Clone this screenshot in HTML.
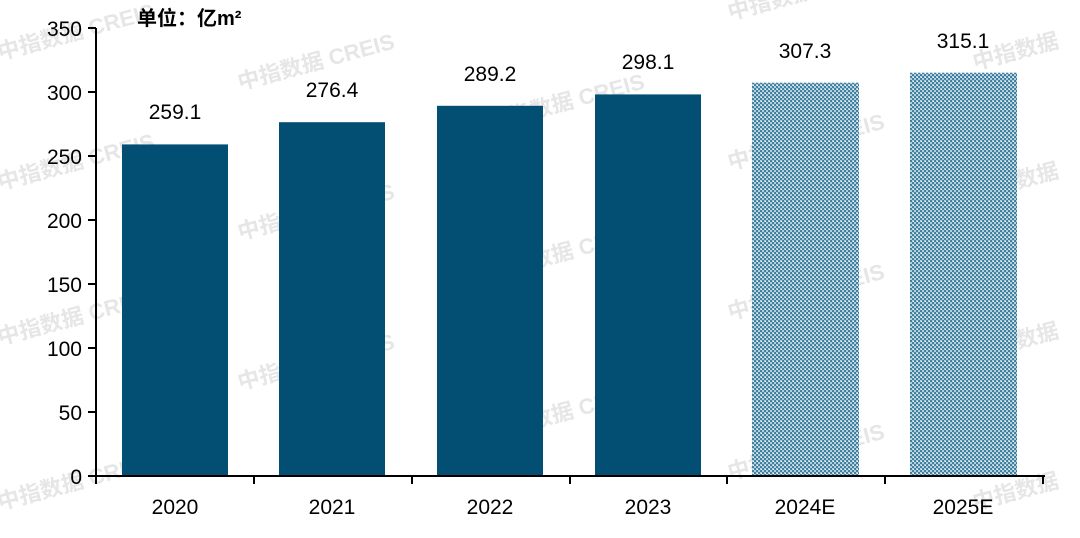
<!DOCTYPE html>
<html><head><meta charset="utf-8"><style>
body{margin:0;background:#fff;}
svg text{font-family:"Liberation Sans","Noto Sans CJK SC",sans-serif;}
</style></head><body>
<svg width="1080" height="533" viewBox="0 0 1080 533" xmlns="http://www.w3.org/2000/svg">
<defs>
<pattern id="p" width="4" height="4" patternUnits="userSpaceOnUse">
<rect width="4" height="4" fill="#3f7f9f"/>
<rect x="0" y="0" width="2" height="2" fill="#b3d0de"/>
<rect x="2" y="2" width="2" height="2" fill="#b3d0de"/>
<rect x="1" y="1" width="1" height="1" fill="#ffffff"/>
</pattern>
</defs>
<g fill="#e6e6e6" font-size="22" font-weight="bold">
<text transform="translate(0,60) rotate(-15)">中指数据 CREIS</text>
<text transform="translate(240,90) rotate(-15)">中指数据 CREIS</text>
<text transform="translate(730,20) rotate(-15)">中指数据 CREIS</text>
<text transform="translate(0,190) rotate(-15)">中指数据 CREIS</text>
<text transform="translate(240,240) rotate(-15)">中指数据 CREIS</text>
<text transform="translate(490,130) rotate(-15)">中指数据 CREIS</text>
<text transform="translate(730,170) rotate(-15)">中指数据 CREIS</text>
<text transform="translate(975,70) rotate(-15)">中指数据</text>
<text transform="translate(0,345) rotate(-15)">中指数据 CREIS</text>
<text transform="translate(240,390) rotate(-15)">中指数据 CREIS</text>
<text transform="translate(490,280) rotate(-15)">中指数据 CREIS</text>
<text transform="translate(730,320) rotate(-15)">中指数据 CREIS</text>
<text transform="translate(975,200) rotate(-15)">中指数据</text>
<text transform="translate(0,510) rotate(-15)">中指数据 CREIS</text>
<text transform="translate(490,440) rotate(-15)">中指数据 CREIS</text>
<text transform="translate(730,480) rotate(-15)">中指数据 CREIS</text>
<text transform="translate(975,360) rotate(-15)">中指数据</text>
<text transform="translate(975,510) rotate(-15)">中指数据</text>
</g>
<g fill="#034f73">
<rect x="122" y="144.4" width="106" height="331.6"/>
<rect x="279" y="122.2" width="106" height="353.8"/>
<rect x="437" y="105.8" width="106" height="370.2"/>
<rect x="595" y="94.4" width="106" height="381.6"/>
</g>
<rect x="752" y="82.7" width="107" height="393.3" fill="url(#p)"/>
<rect x="910" y="72.7" width="107" height="403.3" fill="url(#p)"/>
<g stroke="#000" stroke-width="2" fill="none">
<line x1="96" y1="28" x2="96" y2="477"/>
<line x1="88" y1="476" x2="1045" y2="476"/>
<line x1="88" y1="28" x2="96" y2="28"/>
<line x1="88" y1="92" x2="96" y2="92"/>
<line x1="88" y1="156" x2="96" y2="156"/>
<line x1="88" y1="220" x2="96" y2="220"/>
<line x1="88" y1="284" x2="96" y2="284"/>
<line x1="88" y1="348" x2="96" y2="348"/>
<line x1="88" y1="412" x2="96" y2="412"/>
<line x1="96" y1="476" x2="96" y2="484"/>
<line x1="254" y1="476" x2="254" y2="484"/>
<line x1="412" y1="476" x2="412" y2="484"/>
<line x1="570" y1="476" x2="570" y2="484"/>
<line x1="727" y1="476" x2="727" y2="484"/>
<line x1="885" y1="476" x2="885" y2="484"/>
<line x1="1043" y1="476" x2="1043" y2="484"/>
</g>
<g font-size="21" fill="#000" text-anchor="end">
<text x="82" y="36">350</text>
<text x="82" y="100">300</text>
<text x="82" y="164">250</text>
<text x="82" y="228">200</text>
<text x="82" y="292">150</text>
<text x="82" y="356">100</text>
<text x="82" y="420">50</text>
<text x="82" y="484">0</text>
</g>
<g font-size="21" fill="#000" text-anchor="middle">
<text x="175" y="514">2020</text>
<text x="332" y="514">2021</text>
<text x="490" y="514">2022</text>
<text x="648" y="514">2023</text>
<text x="805" y="514">2024E</text>
<text x="963" y="514">2025E</text>
<text x="175" y="119">259.1</text>
<text x="332" y="97">276.4</text>
<text x="490" y="81">289.2</text>
<text x="648" y="69">298.1</text>
<text x="805" y="58">307.3</text>
<text x="963" y="48">315.1</text>
</g>
<text x="137" y="25" font-size="20" fill="#000" font-weight="bold">单位：亿m²</text>
</svg>
</body></html>
